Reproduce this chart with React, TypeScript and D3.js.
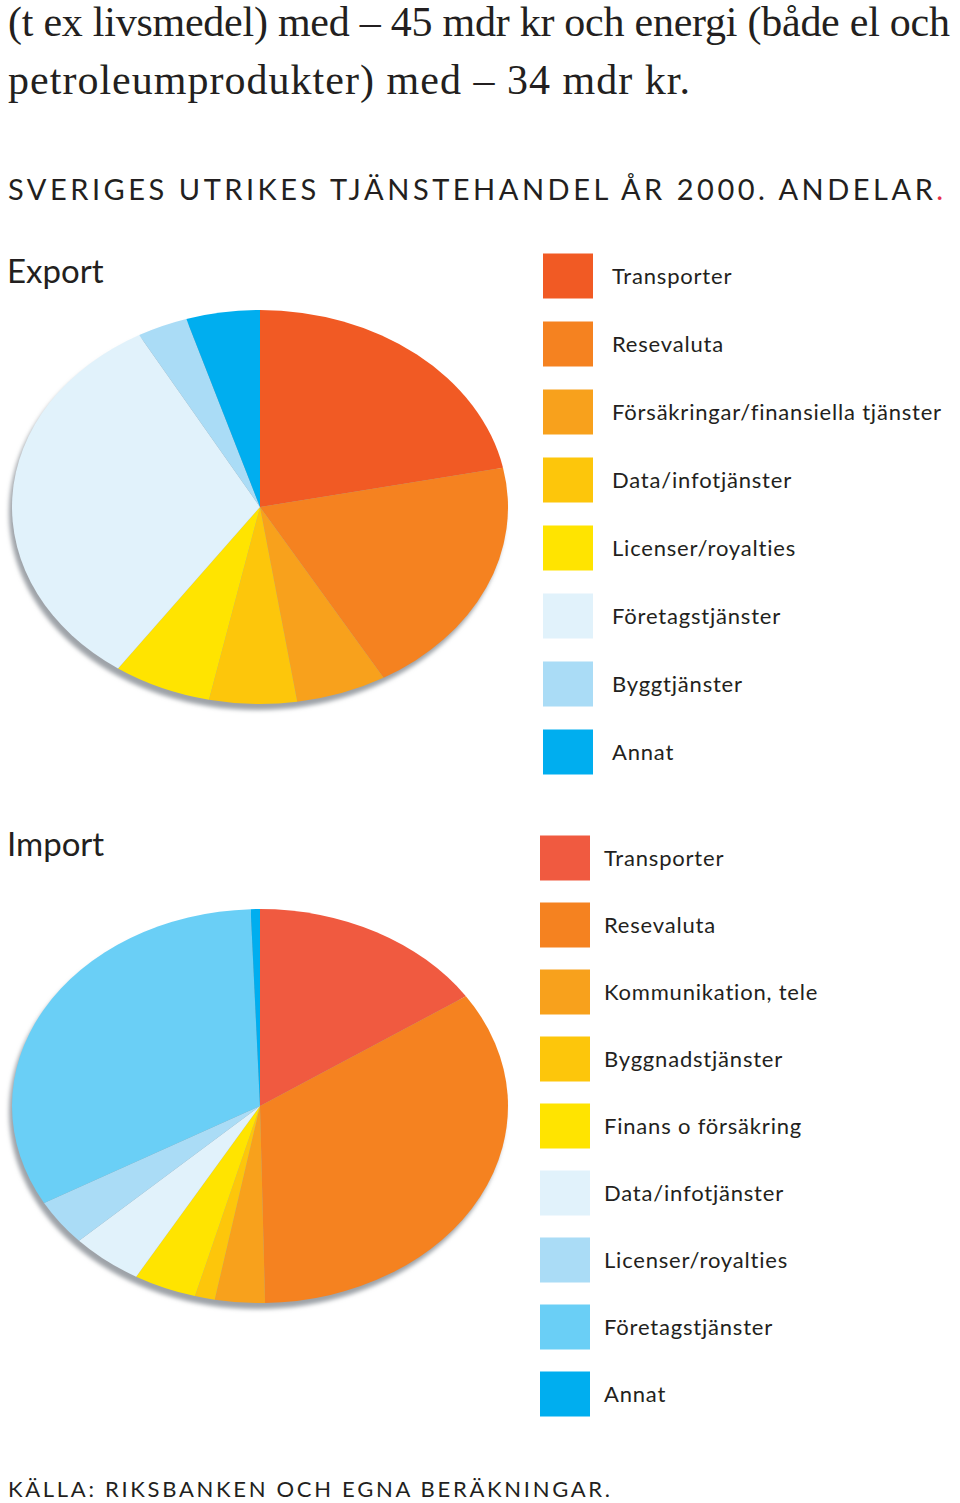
import React from "react";
import * as d3 from "d3";

// Export shares (% of total), clockwise from 12 o'clock
const exportLabels = [
  "Transporter",
  "Resevaluta",
  "Försäkringar/finansiella tjänster",
  "Data/infotjänster",
  "Licenser/royalties",
  "Företagstjänster",
  "Byggtjänster",
  "Annat",
];
const exportValues = [21.8, 19.9, 5.9, 5.7, 6.4, 32.2, 3.3, 4.8];
const exportColors = ["#f15a24", "#f58220", "#f8a11c", "#fdc60b", "#ffe400", "#e1f2fb", "#aadcf6", "#00aeef"];

// Import shares (% of total)
const importLabels = [
  "Transporter",
  "Resevaluta",
  "Kommunikation, tele",
  "Byggnadstjänster",
  "Finans o försäkring",
  "Data/infotjänster",
  "Licenser/royalties",
  "Företagstjänster",
  "Annat",
];
const importValues = [15.6, 34.1, 3.25, 1.3, 4.1, 4.7, 3.8, 32.6, 0.6];
const importColors = ["#f05a40", "#f58220", "#f8a11c", "#fdc60b", "#ffe400", "#e1f2fb", "#aadcf6", "#6acff6", "#00aeef"];

const introLines = [
  "(t ex livsmedel) med – 45 mdr kr och energi (både el och",
  "petroleumprodukter) med – 34 mdr kr.",
];

const sans = "Lato, 'Open Sans', sans-serif";

function Pie({ values, colors, cx, cy, rx, ry }: any) {
  const slices = d3.pie<number>().sort(null).value((d) => d)(values);
  const arc = d3.arc<d3.PieArcDatum<number>>().innerRadius(0).outerRadius(100);
  return (
    <g>
      <ellipse cx={cx - 3} cy={cy + 6} rx={rx} ry={ry} fill="#9ea3a8" filter="url(#soft)" />
      <g transform={`translate(${cx},${cy}) scale(${rx / 100},${ry / 100})`}>
        {slices.map((s, i) => (
          <path key={i} d={arc(s) || ""} fill={colors[i]} />
        ))}
      </g>
    </g>
  );
}

function Legend({ labels, colors, x, y0, y1, textX }: any) {
  const y = d3.scalePoint<string>().domain(labels).range([y0, y1]);
  return (
    <g>
      {labels.map((l: string, i: number) => (
        <g key={l}>
          <rect x={x} y={(y(l) as number) - 22.5} width={50} height={45} fill={colors[i]} />
          <text x={textX} y={(y(l) as number) + 8} fontFamily={sans} fontSize={22} letterSpacing={0.8} fill="#231f20">
            {l}
          </text>
        </g>
      ))}
    </g>
  );
}

export default function App() {
  return (
    <svg width={960} height={1503} style={{ position: "absolute", left: 0, top: 0, background: "#fff" }}>
      <defs>
        <filter id="soft" x="-10%" y="-10%" width="120%" height="120%">
          <feGaussianBlur stdDeviation="2" />
        </filter>
      </defs>
      <text x={8} y={36} fontFamily="'Liberation Serif', serif" fontSize={42} fill="#231f20" textLength={942} lengthAdjust="spacing">
        {introLines[0]}
      </text>
      <text x={8} y={94} fontFamily="'Liberation Serif', serif" fontSize={42} fill="#231f20" textLength={682} lengthAdjust="spacing">
        {introLines[1]}
      </text>
      <text x={8} y={200} fontFamily={sans} fontSize={29} fill="#231f20" letterSpacing={1.8} textLength={937} lengthAdjust="spacing">
        SVERIGES UTRIKES TJÄNSTEHANDEL ÅR 2000. ANDELAR<tspan fill="#e8304a">.</tspan>
      </text>

      <text x={7} y={283} fontFamily={sans} fontSize={33} fill="#231f20">Export</text>
      <Pie values={exportValues} colors={exportColors} cx={260} cy={507} rx={248} ry={197} />
      <Legend labels={exportLabels} colors={exportColors} x={543} y0={276} y1={752} textX={612} />

      <text x={7} y={856} fontFamily={sans} fontSize={33} fill="#231f20">Import</text>
      <Pie values={importValues} colors={importColors} cx={260} cy={1106} rx={248} ry={197} />
      <Legend labels={importLabels} colors={importColors} x={540} y0={858} y1={1394} textX={604} />

      <text x={8} y={1497} fontFamily={sans} fontSize={22} fill="#231f20" letterSpacing={2.7}>
        KÄLLA: RIKSBANKEN OCH EGNA BERÄKNINGAR.
      </text>
    </svg>
  );
}
